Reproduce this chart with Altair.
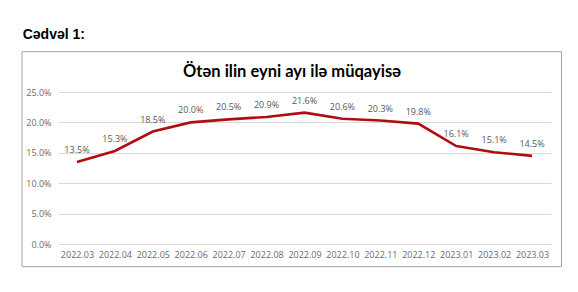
import altair as alt
import pandas as pd

months = ["2022.03", "2022.04", "2022.05", "2022.06", "2022.07", "2022.08", "2022.09",
          "2022.10", "2022.11", "2022.12", "2023.01", "2023.02", "2023.03"]
values = [13.5, 15.3, 18.5, 20.0, 20.5, 20.9, 21.6, 20.6, 20.3, 19.8, 16.1, 15.1, 14.5]
y_ticks = [0, 0.05, 0.10, 0.15, 0.20, 0.25]

df = pd.DataFrame({"month": months, "value": [v / 100 for v in values]})
one = pd.DataFrame({"k": [0]})

W, H = 493, 152
L, T = 58, 92

x = alt.X("month:O", sort=months, title=None,
          scale=alt.Scale(type="point", padding=0.5),
          axis=alt.Axis(labelAngle=0, ticks=False, domain=False, labelFont="Open Sans",
                        labelFontSize=9, labelColor="#6B6B6B", labelPadding=6, grid=False,
                        labelOverlap=False))
y = alt.Y("value:Q", title=None,
          scale=alt.Scale(domain=[0, 0.25], nice=False),
          axis=alt.Axis(values=y_ticks, format=".1%", ticks=False,
                        domain=False, labelFont="Open Sans", labelFontSize=9,
                        labelColor="#6B6B6B", labelPadding=7, gridColor="#D9D9D9",
                        gridWidth=1, labelOverlap=False, labelBound=False,
                        labelFlush=False))

line = alt.Chart(df).mark_line(color="#B00D12", strokeWidth=2.6).encode(x=x, y=y)
labels = alt.Chart(df).mark_text(dy=-12, font="Open Sans", fontSize=9, color="#595959").encode(
    x=x, y=y, text=alt.Text("value:Q", format=".1%"))

frame = alt.Chart(one).mark_rect(fill=None, stroke="#A6A6A6", strokeWidth=1).encode(
    x=alt.value(22 - L), x2=alt.value(561.5 - L), y=alt.value(51.7 - T), y2=alt.value(266.7 - T))

title = alt.Chart(one).mark_text(text="Ötən ilin eyni ayı ilə müqayisə", font="Lato",
                                 fontSize=16.5, fontWeight="bold", color="#000000",
                                 align="center", baseline="alphabetic").encode(
    x=alt.value(292 - L), y=alt.value(77 - T))

caption = alt.Chart(one).mark_text(text="Cədvəl 1:", font="Liberation Sans", fontSize=14,
                                   fontWeight="bold", color="#000000", align="left",
                                   baseline="alphabetic").encode(
    x=alt.value(22.7 - L), y=alt.value(39.3 - T))

chart = alt.layer(frame, line, labels, title, caption).properties(
    width=W, height=H,
    autosize=alt.AutoSizeParams(type="none"),
    padding={"left": L, "top": T, "right": 578 - L - W, "bottom": 292 - T - H},
    background="white",
).configure_view(stroke=None)

chart.save("out.html", embed_options={"renderer": "svg", "actions": False})
